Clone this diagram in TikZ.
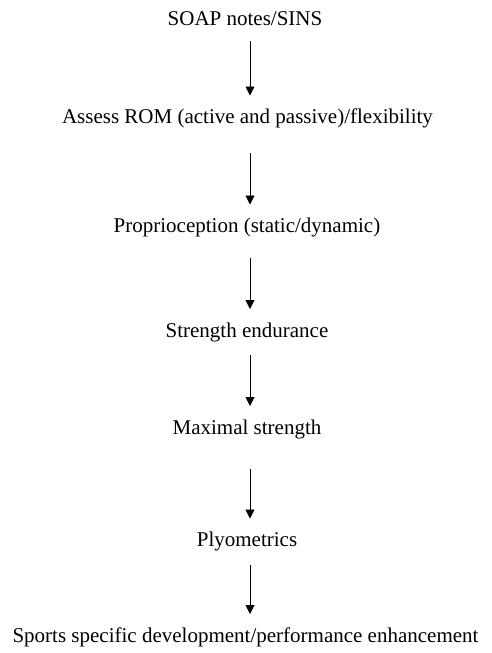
\documentclass[tikz,border=0pt]{standalone}
\usepackage{fontspec}
\setmainfont{Liberation Serif}
\usetikzlibrary{arrows.meta,calc}
\begin{document}
\begin{tikzpicture}[x=1pt,y=-1pt,
  lbl/.style={inner sep=0pt,font=\fontsize{21}{24}\selectfont,anchor=base},
  arr/.style={-{Triangle[length=9pt,width=9pt]},line width=0.9pt}]
\useasboundingbox (0,0) rectangle (491,653);
\coordinate (ax) at (250,0);
\node[lbl] (n1) at (245,25) {SOAP notes/SINS};
\node[lbl] (n2) at (247.5,123.5) {Assess ROM (active and passive)/flexibility};
\node[lbl] (n3) at (247,232.5) {Proprioception (static/dynamic)};
\node[lbl] (n4) at (247,337) {Strength endurance};
\node[lbl] (n5) at (247,434) {Maximal strength};
\node[lbl] (n6) at (247,546.5) {Plyometrics};
\node[lbl] (n7) at (245.5,642) {Sports specific development/performance enhancement};
\foreach \a/\b/\s in {n1/n2/16, n2/n3/29, n3/n4/25, n4/n5/18, n5/n6/35, n6/n7/18}{
  \draw[arr] ($(\a.base -| ax)+(0,\s)$) -- ($(\b.base -| ax)+(0,-28)$);
}
\end{tikzpicture}
\end{document}
